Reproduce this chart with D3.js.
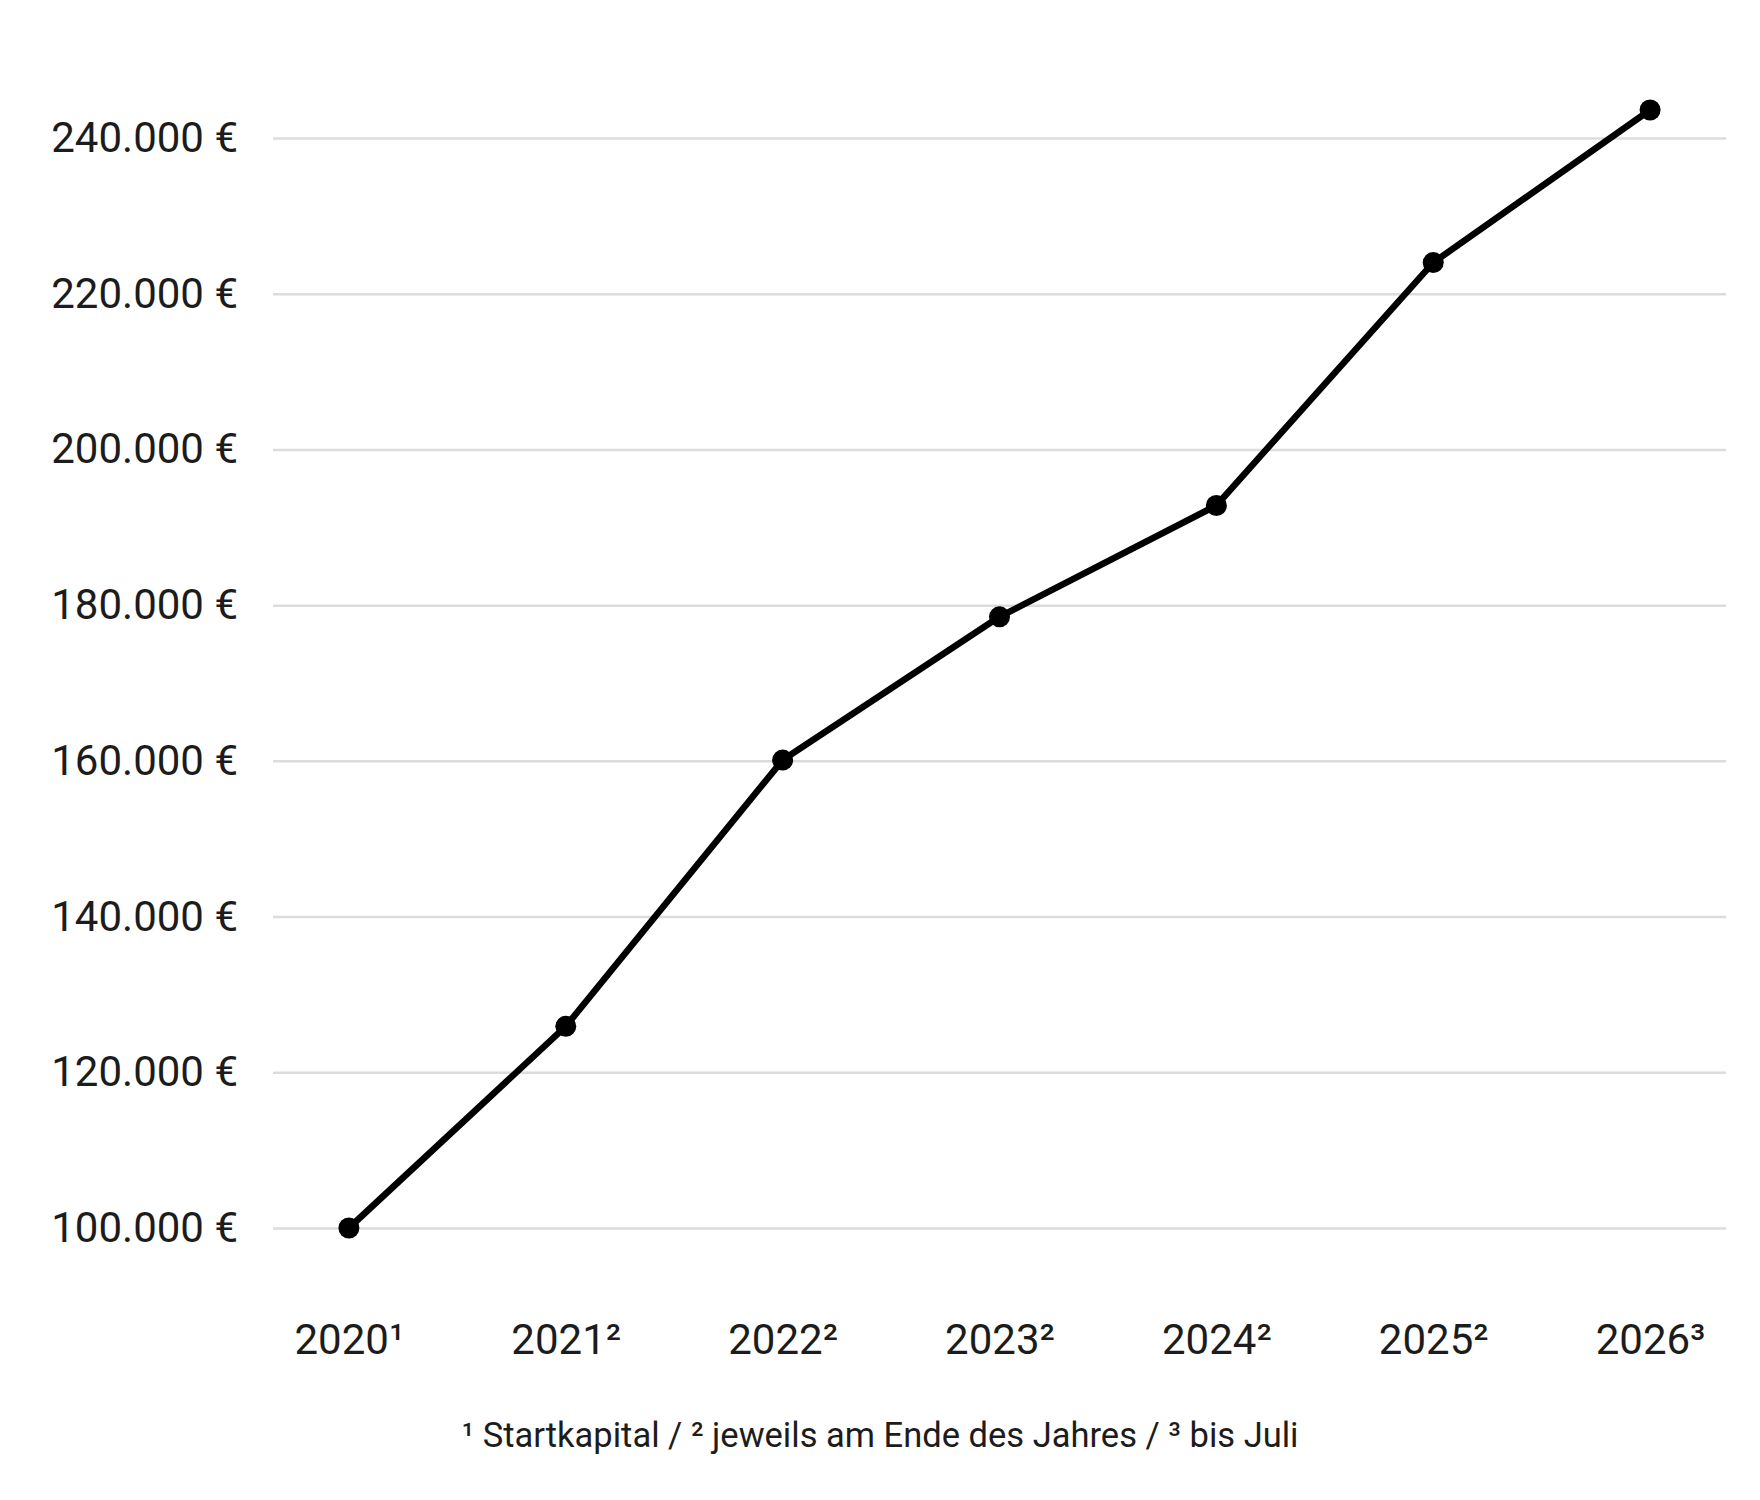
<!DOCTYPE html>
<html>
<head>
<meta charset="utf-8">
<script src="https://cdn.jsdelivr.net/npm/d3@7"></script>
<style>
	body { margin: 0; background: #fff; }
	svg { display: block; font-family: Roboto, "Noto Sans", sans-serif; }
	.axis text { fill: #1c1c1c; font-size: 42px; font-family: Roboto, "Noto Sans", sans-serif; }
	.axis .domain { display: none; }
	.y-axis line { stroke: #dcdcdc; stroke-width: 2.5; }
	.note { fill: #1c1c1c; font-size: 34.5px; }
</style>
</head>
<body>
<div id="chart"></div>
<script>
// data
var years = ['2020', '2021', '2022', '2023', '2024', '2025', '2026'];
var yearLabels = ['2020\u00b9', '2021\u00b2', '2022\u00b2', '2023\u00b2', '2024\u00b2', '2025\u00b2', '2026\u00b3'];
var capital = [100000, 125900, 160100, 178500, 192800, 224000, 243600];
var yTicks = [100000, 120000, 140000, 160000, 180000, 200000, 220000, 240000];
var footnote = '\u00b9 Startkapital / \u00b2 jeweils am Ende des Jahres / \u00b3 bis Juli';

initLineChart();

function initLineChart() {
	var fullWidth = 1760;
	var fullHeight = 1500;
	var margin = {
		top: 138,
		right: 34,
		bottom: 272,
		left: 273
	};
	var width = fullWidth - margin.left - margin.right;
	var height = fullHeight - margin.top - margin.bottom;

	var de = d3.formatLocale({
		decimal: ',',
		thousands: '.',
		grouping: [3],
		currency: ['', ' \u20ac']
	});
	var fmt = de.format('$,.0f');

	var data = years.map(function(y, i) {
		return { year: y, value: capital[i] };
	});

	var svg = d3.select('#chart')
		.append('svg')
		.attr('width', fullWidth)
		.attr('height', fullHeight);

	var wrapper = svg.append('g')
		.attr('transform', 'translate(' + margin.left + ',' + margin.top + ')');

	var xScale = d3.scalePoint()
		.domain(years)
		.range([0, width])
		.padding(0.35);

	var yScale = d3.scaleLinear()
		.domain([100000, 240000])
		.range([height, 0]);

	// gridlines + y labels
	wrapper.append('g')
		.attr('class', 'axis y-axis')
		.call(d3.axisLeft(yScale).tickValues(yTicks).tickFormat(fmt).tickSize(-width).tickPadding(35))
		.attr('font-family', null)
		.attr('font-size', null);

	// x labels
	var xAxis = wrapper.append('g')
		.attr('class', 'axis x-axis')
		.attr('transform', 'translate(0,' + height + ')')
		.call(d3.axisBottom(xScale).tickSize(0).tickPadding(0).tickFormat(function(d, i) {
			return yearLabels[i];
		}))
		.attr('font-family', null)
		.attr('font-size', null);

	xAxis.selectAll('text')
		.attr('dy', null)
		.attr('y', 126);

	var line = d3.line()
		.x(function(d) { return xScale(d.year); })
		.y(function(d) { return yScale(d.value); });

	wrapper.append('path')
		.datum(data)
		.attr('fill', 'none')
		.attr('stroke', '#000')
		.attr('stroke-width', 6.5)
		.attr('stroke-linejoin', 'round')
		.attr('d', line);

	wrapper.selectAll('.dot')
		.data(data)
		.enter()
		.append('circle')
		.attr('class', 'dot')
		.attr('cx', function(d) { return xScale(d.year); })
		.attr('cy', function(d) { return yScale(d.value); })
		.attr('r', 10.5)
		.attr('fill', '#000');

	svg.append('text')
		.attr('class', 'note')
		.attr('x', fullWidth / 2)
		.attr('y', 1447)
		.attr('text-anchor', 'middle')
		.text(footnote);
}
</script>
</body>
</html>
